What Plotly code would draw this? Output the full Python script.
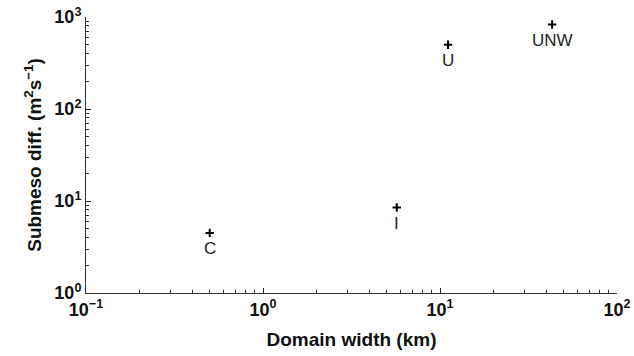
import math
import plotly.graph_objects as go

cases = ["C", "I", "U", "UNW"]
domain_width_km = [0.5, 5.7, 11.1, 43]
submeso_diff = [4.5, 8.5, 500, 830]

x_tickvals = [0.1, 1, 10, 100]
x_ticktext = ["10<sup>−1</sup>", "10<sup>0</sup>", "10<sup>1</sup>", "10<sup>2</sup>"]
y_tickvals = [1, 10, 100, 1000]
y_ticktext = ["10<sup>0</sup>", "10<sup>1</sup>", "10<sup>2</sup>", "10<sup>3</sup>"]

FONT = "Liberation Sans, Arial, sans-serif"

fig = go.Figure()
fig.add_trace(go.Scatter(
    x=domain_width_km, y=submeso_diff,
    mode="markers",
    marker=dict(symbol="cross-thin", size=6, line=dict(width=2, color="black"), color="black"),
    cliponaxis=False, showlegend=False, hoverinfo="skip",
))
for name, xv, yv in zip(cases, domain_width_km, submeso_diff):
    fig.add_annotation(x=math.log10(xv), y=math.log10(yv), xref="x", yref="y",
                       text=name, showarrow=False, yshift=-16,
                       font=dict(family=FONT, size=17, color="#222"))

axis_common = dict(
    type="log",
    ticks="inside", ticklen=5, tickcolor="#222", tickwidth=1,
    showline=True, linecolor="#333", linewidth=1,
    showgrid=False, zeroline=False, automargin=False,
    tickfont=dict(family=FONT, size=18, color="#111", weight="bold"),
    minor=dict(ticks="inside", ticklen=3, tickcolor="#333", dtick="D1", showgrid=False),
)

fig.update_layout(
    width=634, height=356,
    margin=dict(l=86, r=17, t=17, b=63),
    paper_bgcolor="white", plot_bgcolor="white",
    xaxis=dict(range=[-1, 2], tickvals=x_tickvals, ticktext=x_ticktext,
               title=dict(text="Domain width (km)", standoff=14,
                          font=dict(family=FONT, size=19, color="#111", weight="bold")),
               **axis_common),
    yaxis=dict(range=[0, 3], tickvals=y_tickvals, ticktext=y_ticktext,
               title=dict(text="Submeso diff. (m<sup>2</sup>s<sup>−1</sup>)", standoff=7,
                          font=dict(family=FONT, size=19, color="#111", weight="bold")),
               **axis_common),
)

fig.write_html("out.html", config={"displayModeBar": False},
               post_script="document.body.style.margin='0';")
